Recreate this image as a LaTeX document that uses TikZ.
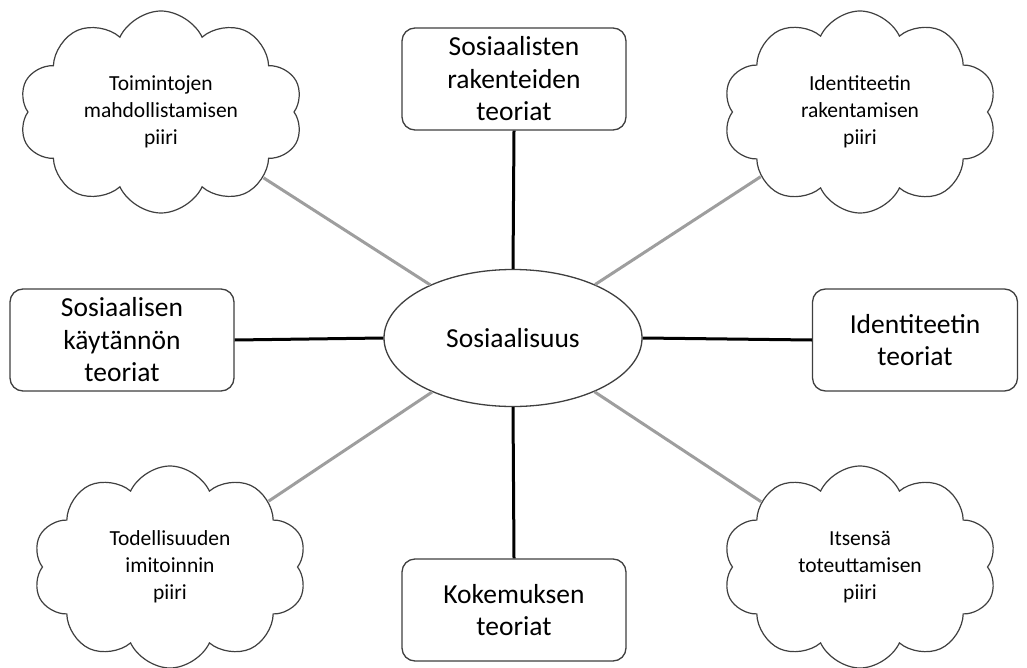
\documentclass[tikz,border=0pt]{standalone}
\usepackage{fontspec}
\setmainfont{Carlito}
\usetikzlibrary{shapes.geometric, shapes.symbols, positioning}
\definecolor{inkcolor}{HTML}{3F3F3F}
\definecolor{spokeblack}{HTML}{000000}
\definecolor{spokegray}{HTML}{9E9E9E}

\begin{document}
\begin{tikzpicture}[
  x=1pt, y=-1pt,
  align=center,
]

\tikzset{
  theory/.style={rectangle, rounded corners=13pt, draw=inkcolor, line width=1.3pt,
    fill=white, minimum width=224pt, minimum height=102pt, inner sep=2pt,
    font=\fontsize{27.5}{32.5}\selectfont},
  circlecloud/.style={cloud, cloud puffs=10, cloud puff arc=130, aspect=1.4,
    draw=inkcolor, line width=1.2pt, fill=white,
    minimum width=274pt, minimum height=202pt, inner sep=0pt,
    font=\fontsize{21.5}{27}\selectfont},
  core/.style={ellipse, draw=inkcolor, line width=1.3pt, fill=white,
    minimum width=258pt, minimum height=137pt,
    font=\fontsize{27.5}{32.5}\selectfont},
  mainspoke/.style={spokeblack, line width=3pt},
  sidespoke/.style={spokegray, line width=3pt},
}

\useasboundingbox (0,0) rectangle (1027,668);

% ---------------------------------------------------------------
% centre
% ---------------------------------------------------------------
\node[core] (social) at (513,338) {Sosiaalisuus};

% ---------------------------------------------------------------
% theory boxes
% ---------------------------------------------------------------
\node[theory] (structures) at (514,79)  {Sosiaalisten\\rakenteiden\\teoriat};
\node[theory] (practice)   at (122,340) {Sosiaalisen\\käytännön\\teoriat};
\node[theory, minimum width=205pt] (identity) at (915,340) {Identiteetin\\teoriat};
\node[theory] (experience) at (514,610) {Kokemuksen\\teoriat};

% ---------------------------------------------------------------
% circles (clouds)
% ---------------------------------------------------------------
\node[circlecloud, minimum width=284pt] (enabling) at (161,112) {Toimintojen\\mahdollistamisen\\piiri};
\node[circlecloud] (building)  at (860,112) {Identiteetin\\rakentamisen\\piiri};
\node[circlecloud] (imitation) at (170,567) {Todellisuuden\\imitoinnin\\piiri};
\node[circlecloud] (selfreal)  at (860,567) {Itsensä\\toteuttamisen\\piiri};

% ---------------------------------------------------------------
% spokes
% ---------------------------------------------------------------
\draw[mainspoke] (structures.south) -- (social.north);
\draw[mainspoke] (practice.east)    -- (social.west);
\draw[mainspoke] (social.east)      -- (identity.west);
\draw[mainspoke] (social.south)     -- (experience.north);

\draw[sidespoke] (enabling)  -- (social);
\draw[sidespoke] (building)  -- (social);
\draw[sidespoke] (imitation) -- (social);
\draw[sidespoke] (selfreal)  -- (social);

\end{tikzpicture}
\end{document}
